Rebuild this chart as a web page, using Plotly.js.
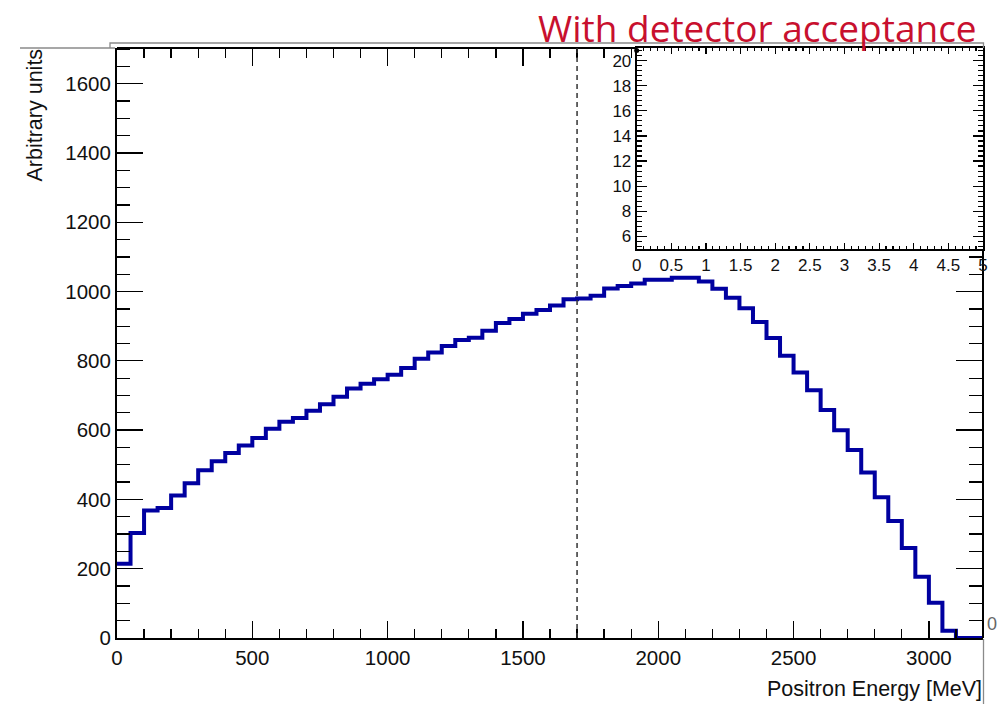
<!DOCTYPE html>
<html><head><meta charset="utf-8">
<script src="https://cdn.plot.ly/plotly-3.0.1.min.js"></script>
<style>html,body{margin:0;padding:0;background:#fff}#chart{width:1008px;height:704px}</style>
</head><body><div id="chart"></div>
<script>
// ---- data ----
const binWidth = 50; // MeV
const counts = [
  214, 303, 368, 375, 411, 447, 484, 510, 534, 556,
  577, 604, 624, 635, 656, 675, 696, 720, 734, 747,
  760, 779, 806, 824, 843, 860, 867, 887, 909, 921,
  936, 947, 960, 978, 980, 988, 1009, 1016, 1023, 1034,
  1034, 1040, 1040, 1029, 1008, 982, 952, 912, 866, 815,
  766, 715, 658, 600, 543, 478, 406, 338, 260, 177,
  102, 21, 0, 0
];
const cutEnergy = 1700;
const insetX = [0];
const insetY = [20.8];
const titleText = "With detector acceptance";
const xTitle = "Positron Energy [MeV]";
const yTitle = "Arbitrary units";
const strayLabel = "0";

// ---- geometry helpers (pixel -> paper) ----
const W = 1008, H = 704;
const L = 117, R = 983, T = 48, B = 638;
const px = x => (x - L) / (R - L);
const py = y => (B - y) / (B - T);

const xMax = 3200, yMax = 1703;
const insetLeft = px(636.7), insetBottom = py(249);

const edges = counts.map((c, i) => i * binWidth);
const histX = edges.concat([counts.length * binWidth]);
const histY = counts.concat([counts[counts.length - 1]]);

const FONT = "Liberation Sans, Arial, sans-serif";
const tickFont = {family: FONT, size: 20.5, color: "#111"};
const insetFont = {family: FONT, size: 17, color: "#111"};

const traces = [
  {x: histX, y: histY, xaxis: "x", yaxis: "y", type: "scatter", mode: "lines",
   line: {shape: "hv", color: "#0000a0", width: 4}, hoverinfo: "skip", showlegend: false},
  // helpers for the partial frame axes
  {x: [0], y: [0], xaxis: "x3", yaxis: "y", type: "scatter", mode: "markers",
   marker: {opacity: 0}, hoverinfo: "skip", showlegend: false},
  {x: [0], y: [0], xaxis: "x", yaxis: "y4", type: "scatter", mode: "markers",
   marker: {opacity: 0}, hoverinfo: "skip", showlegend: false},
  // inset
  {x: insetX, y: insetY, xaxis: "x2", yaxis: "y2", type: "scatter", mode: "markers",
   marker: {color: "#000", size: 5}, cliponaxis: false, hoverinfo: "skip", showlegend: false}
];

const mainX = {
  showline: true, linecolor: "#000", linewidth: 2, showgrid: false, zeroline: false,
  ticks: "inside", ticklen: 17, tickwidth: 1.3, tickcolor: "#000", dtick: 500, tick0: 0,
  minor: {ticks: "inside", ticklen: 9, tickwidth: 1.3, tickcolor: "#000", dtick: 100, showgrid: false},
  tickfont: tickFont
};
const mainY = {
  showline: true, linecolor: "#000", linewidth: 2, showgrid: false, zeroline: false,
  ticks: "inside", ticklen: 26, tickwidth: 1.3, tickcolor: "#000", dtick: 200, tick0: 0,
  minor: {ticks: "inside", ticklen: 13, tickwidth: 1.3, tickcolor: "#000", dtick: 50, showgrid: false},
  tickfont: tickFont
};

const layout = {
  width: W, height: H,
  margin: {l: L, r: W - R, t: T, b: H - B, pad: 0},
  paper_bgcolor: "#fff", plot_bgcolor: "rgba(0,0,0,0)",
  showlegend: false,
  xaxis: Object.assign({}, mainX, {domain: [0, 1], range: [0, xMax], anchor: "y"}),
  yaxis: Object.assign({}, mainY, {domain: [0, 1], range: [0, yMax], anchor: "x"}),
  xaxis3: Object.assign({}, mainX, {domain: [0, insetLeft], range: [0, xMax * insetLeft],
    anchor: "free", position: 1, side: "top", showticklabels: false}),
  yaxis4: Object.assign({}, mainY, {domain: [0, insetBottom], range: [0, yMax * insetBottom],
    anchor: "free", position: 1, side: "right", showticklabels: false}),
  xaxis2: {domain: [insetLeft, 1], range: [0, 5], anchor: "y2",
    showline: true, linecolor: "#000", linewidth: 2, mirror: "ticks", showgrid: false, zeroline: false,
    ticks: "inside", ticklen: 6, tickwidth: 1.2, tickcolor: "#000", dtick: 0.5, tick0: 0,
    minor: {ticks: "inside", ticklen: 3, tickwidth: 1.2, tickcolor: "#000", dtick: 0.1, showgrid: false},
    tickfont: insetFont},
  yaxis2: {domain: [insetBottom, 1], range: [5, 21], anchor: "x2",
    showline: true, linecolor: "#000", linewidth: 2, mirror: "ticks", showgrid: false, zeroline: false,
    ticks: "inside", ticklen: 10, tickwidth: 1.2, tickcolor: "#000", dtick: 2, tick0: 0,
    minor: {ticks: "inside", ticklen: 5, tickwidth: 1.2, tickcolor: "#000", dtick: 0.4, showgrid: false},
    tickfont: insetFont},
  shapes: [
    {type: "line", xref: "x", yref: "paper", x0: cutEnergy, x1: cutEnergy, y0: 0, y1: 1,
     line: {color: "#333", width: 1.5, dash: "5px,4px"}},
    {type: "path", xref: "paper", yref: "paper", layer: "above",
     path: `M ${px(110)} ${py(48)} L ${px(110)} ${py(43)} L ${px(983.5)} ${py(43)} L ${px(983.5)} ${py(48)}`,
     line: {color: "#8a8a8a", width: 1.3}},
    {type: "line", xref: "paper", yref: "paper", layer: "above",
     x0: px(983.5), x1: px(983.5), y0: py(639), y1: py(704), line: {color: "#8a8a8a", width: 1.3}},
    {type: "line", xref: "paper", yref: "paper", layer: "above",
     x0: px(20), x1: px(115), y0: py(48), y1: py(48), line: {color: "#8a8a8a", width: 1.3}}
  ],
  annotations: [
    {text: titleText, xref: "paper", yref: "paper", x: px(979), y: py(0), xanchor: "right", yanchor: "top",
     showarrow: false, font: {family: "Open Sans, Noto Sans, sans-serif", size: 37, color: "#c8102e"}},
    {text: xTitle, xref: "paper", yref: "paper", x: px(984), y: py(689), xanchor: "right", yanchor: "middle",
     showarrow: false, font: {family: FONT, size: 21.5, color: "#111"}},
    {text: yTitle, xref: "paper", yref: "paper", x: px(35), y: py(47), xanchor: "center", yanchor: "top",
     textangle: -90, showarrow: false, font: {family: FONT, size: 21.5, color: "#111"}},
    {text: strayLabel, xref: "paper", yref: "paper", x: px(985), y: py(624), xanchor: "left", yanchor: "middle",
     showarrow: false, font: {family: FONT, size: 18, color: "#666"}}
  ]
};

Plotly.newPlot("chart", traces, layout, {staticPlot: true, displayModeBar: false});
</script>
</body></html>
